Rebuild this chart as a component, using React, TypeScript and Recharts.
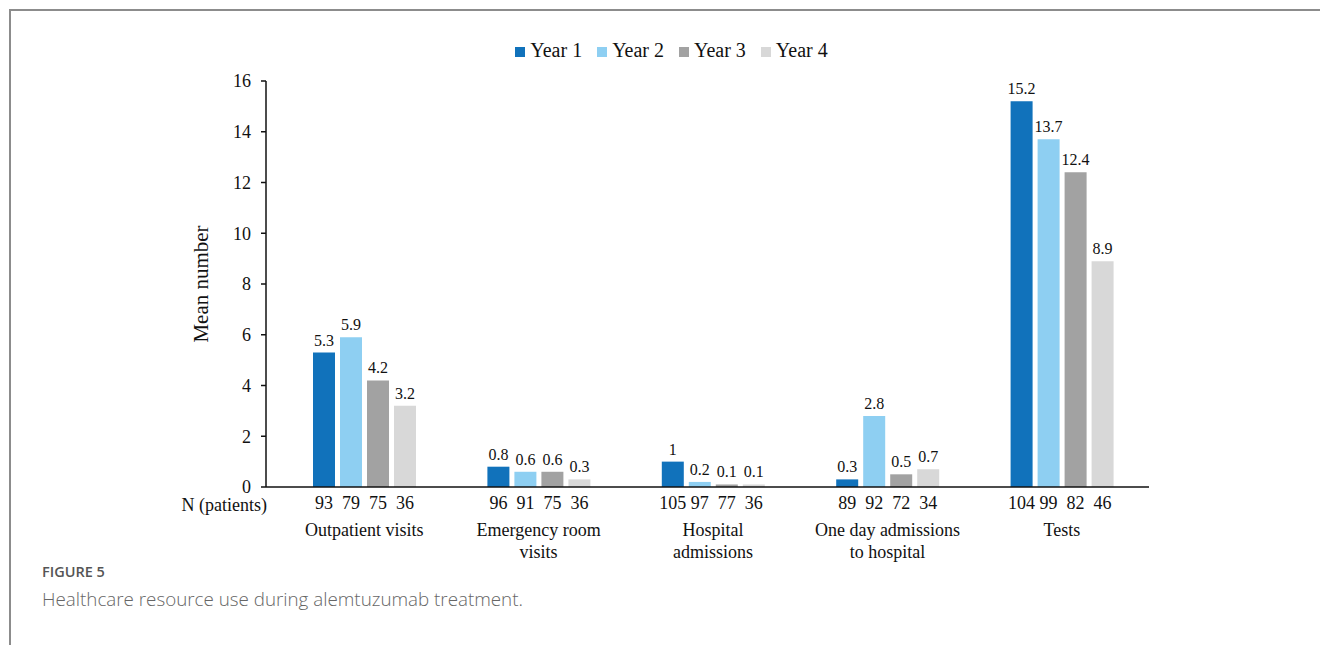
import React from "react";
import {
  BarChart,
  Bar,
  XAxis,
  YAxis,
  Legend,
  LabelList,
} from "recharts";

const categories = [
  "Outpatient visits",
  "Emergency room\nvisits",
  "Hospital\nadmissions",
  "One day admissions\nto hospital",
  "Tests",
];
const seriesNames = ["Year 1", "Year 2", "Year 3", "Year 4"];
const seriesColors = ["#1172BB", "#8ECFF2", "#A2A2A2", "#D8D8D8"];

// mean number per year
const year1 = [5.3, 0.8, 1, 0.3, 15.2];
const year2 = [5.9, 0.6, 0.2, 2.8, 13.7];
const year3 = [4.2, 0.6, 0.1, 0.5, 12.4];
const year4 = [3.2, 0.3, 0.1, 0.7, 8.9];

// patients per year
const n1 = [93, 96, 105, 89, 104];
const n2 = [79, 91, 97, 92, 99];
const n3 = [75, 75, 77, 72, 82];
const n4 = [36, 36, 36, 34, 46];

const yTicks = [0, 2, 4, 6, 8, 10, 12, 14, 16];

const SERIF = '"Liberation Serif", "Times New Roman", serif';
const SANS = '"Open Sans", "Noto Sans", sans-serif';

const values = [year1, year2, year3, year4];
const counts = [n1, n2, n3, n4];

const data = categories.map((name, i) => {
  const row: Record<string, string | number> = { name };
  values.forEach((v, s) => {
    row[`y${s}`] = v[i];
    row[`n${s}`] = counts[s][i];
  });
  return row;
});

const CategoryTick = (props: any) => {
  const { x, y, payload } = props;
  const lines = String(payload.value).split("\n");
  return (
    <g>
      {lines.map((line, i) => (
        <text
          key={i}
          x={x}
          y={y + 41 + i * 22}
          textAnchor="middle"
          fontFamily={SERIF}
          fontSize={18}
          fill="#111"
        >
          {line}
        </text>
      ))}
    </g>
  );
};

// patient count written under each bar
const CountLabel = (props: any) => {
  const { x, y, width, height, value } = props;
  return (
    <text
      x={x + width / 2}
      y={y + height + 22}
      textAnchor="middle"
      fontFamily={SERIF}
      fontSize={18}
      fill="#111"
    >
      {value}
    </text>
  );
};

export default function App() {
  return (
    <div style={{ position: "relative", width: 1320, height: 645, background: "#fff", overflow: "hidden" }}>
      <style>{"body{margin:0}"}</style>
      <div
        style={{
          position: "absolute",
          left: 9,
          top: 9,
          width: 1400,
          height: 700,
          borderLeft: "2px solid #8c8c8c",
          borderTop: "2px solid #8c8c8c",
        }}
      />
      <div style={{ position: "absolute", left: 0, top: 0 }}>
        <BarChart
          width={1320}
          height={645}
          data={data}
          margin={{ top: 81, right: 171, left: 0, bottom: 78 }}
          barSize={22}
          barGap={5}
        >
          <XAxis
            dataKey="name"
            height={80}
            tickLine={false}
            axisLine={{ stroke: "#111", strokeWidth: 1.5 }}
            tick={<CategoryTick />}
            interval={0}
            padding={{ left: 11, right: 0 }}
            label={{
              value: "N (patients)",
              position: "left",
              offset: -1,
              dy: -22,
              fontFamily: SERIF,
              fontSize: 18,
              fill: "#111",
            }}
          />
          <YAxis
            width={266}
            domain={[0, 16]}
            ticks={yTicks}
            interval={0}
            tickSize={5}
            tickMargin={10}
            axisLine={{ stroke: "#111", strokeWidth: 1.5 }}
            tickLine={{ stroke: "#111", strokeWidth: 1.5 }}
            tick={{ fontFamily: SERIF, fontSize: 18, fill: "#111" }}
            label={{
              value: "Mean number",
              angle: -90,
              position: "center",
              dx: 68,
              fontFamily: SERIF,
              fontSize: 21,
              fill: "#111",
            }}
          />
          <Legend
            layout="horizontal"
            verticalAlign="middle"
            align="center"
            iconType="square"
            iconSize={10}
            wrapperStyle={{ top: 39, left: 0, width: 1358, fontFamily: SERIF, fontSize: 20 }}
            formatter={(value) => <span style={{ color: "#111", marginLeft: 1, marginRight: 5 }}>{value}</span>}
          />
          {seriesNames.map((s, i) => (
            <Bar
              key={s}
              dataKey={`y${i}`}
              name={s}
              fill={seriesColors[i]}
              isAnimationActive={false}
            >
              <LabelList
                dataKey={`y${i}`}
                position="top"
                offset={7}
                fontFamily={SERIF}
                fontSize={16}
                fill="#111"
              />
              <LabelList dataKey={`n${i}`} content={<CountLabel />} />
            </Bar>
          ))}
        </BarChart>
      </div>
      <div
        style={{
          position: "absolute",
          left: 42,
          top: 562,
          fontFamily: SANS,
          fontSize: 14.5,
          fontWeight: 600,
          color: "#555",
        }}
      >
        FIGURE 5
      </div>
      <div
        style={{
          position: "absolute",
          left: 42,
          top: 586,
          fontFamily: SANS,
          fontSize: 18.8,
          fontWeight: 300,
          color: "#666",
        }}
      >
        Healthcare resource use during alemtuzumab treatment.
      </div>
    </div>
  );
}
